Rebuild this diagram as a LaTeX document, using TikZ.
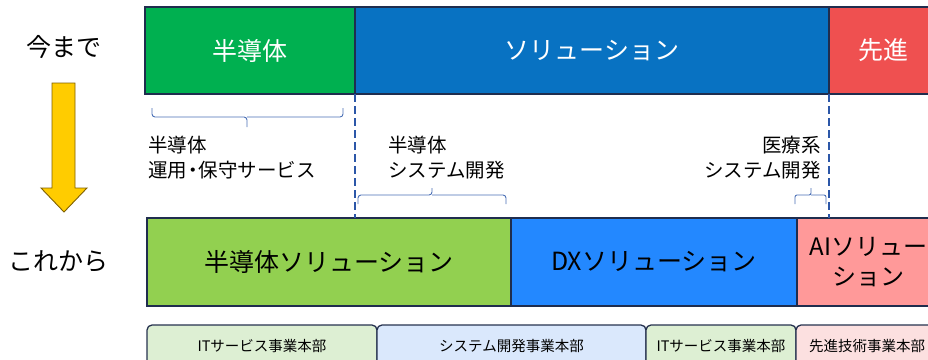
\documentclass[tikz,border=0pt]{standalone}
\usepackage{fontspec}
\newfontfamily\jp{Noto Sans CJK JP}
\definecolor{navy}{HTML}{1F2D4E}
\definecolor{topgreen}{HTML}{00B050}
\definecolor{topblue}{HTML}{0872C2}
\definecolor{topred}{HTML}{EF5050}
\definecolor{botgreen}{HTML}{92D050}
\definecolor{botblue}{HTML}{2388FF}
\definecolor{botpink}{HTML}{FF9999}
\definecolor{tabgreen}{HTML}{DDEFD3}
\definecolor{tabblue}{HTML}{DAE8FC}
\definecolor{tabpink}{HTML}{FCE0E0}
\definecolor{tabline}{HTML}{26324F}
\definecolor{dashblue}{HTML}{2C57A8}
\definecolor{bracecol}{HTML}{4A6FB5}
\definecolor{arrowfill}{HTML}{FFCC00}
\definecolor{arrowline}{HTML}{7F6000}
\begin{document}
\begin{tikzpicture}[x=1pt,y=-1pt,
  box/.style={draw=navy, line width=1.2pt, inner sep=0pt, align=center},
  topbox/.style={box, minimum height=87pt, text=white, font=\jp\fontsize{25}{30}\selectfont},
  botbox/.style={box, minimum height=88pt, text=black, font=\jp\fontsize{25}{30}\selectfont},
  tabbox/.style={draw=tabline, line width=1.3pt, rounded corners=5pt, minimum height=42pt, inner sep=0pt, font=\jp\fontsize{14.5}{17}\selectfont},
  note/.style={inner sep=0pt, font=\jp\fontsize{19.5}{25}\selectfont},
  sidelabel/.style={inner sep=0pt, font=\jp\fontsize{25}{28}\selectfont},
  dashline/.style={draw=dashblue, line width=1.4pt, dash pattern=on 8pt off 4pt},
  brc/.style={draw=bracecol, line width=0.9pt, rounded corners=3pt}]
\useasboundingbox (0,0) rectangle (928,359);
\clip (0,0) rectangle (928,359);

% side labels
\node[sidelabel] (now) at (64,47) {今まで};
\node[sidelabel] (future) at (59,261) {これから};

% arrow
\filldraw[fill=arrowfill, draw=arrowline, line width=0.9pt]
  (52,83) -- (75,83) -- (75,188) -- (87,188) -- (64,212) -- (41,188) -- (52,188) -- cycle;

% top row
\node[topbox, fill=topgreen, minimum width=210pt] (semi) at (250,50.5) {半導体};
\node[topbox, fill=topblue, minimum width=474pt] (sol) at (592,50.5) {ソリューション};
\node[topbox, fill=topred, minimum width=109pt] (adv) at (883.5,50.5) {先進};

% bottom row
\node[botbox, fill=botgreen, minimum width=364pt] (semisol) at (329,262) {半導体ソリューション};
\node[botbox, fill=botblue, minimum width=286pt] (dxsol) at (654,262) {DXソリューション};
\node[botbox, fill=botpink, minimum width=143pt, font=\jp\fontsize{24}{30}\selectfont] (aisol) at (868.5,262) {AIソリュー\\ション};

% dashed lines
\coordinate (d1a) at (355,94); \coordinate (d1b) at (355,218);
\coordinate (d2a) at (829,94); \coordinate (d2b) at (829,218);
\draw[dashline] (d1a) -- (d1b);
\draw[dashline] (d2a) -- (d2b);

% brace 1 (tip down)
\coordinate (b1l) at (152,108); \coordinate (b1r) at (343,108);
\coordinate (b1m) at (247,117); \coordinate (b1t) at (247,127);
\draw[brc] (b1l) |- (b1m) -- (b1t);
\draw[brc] (b1r) |- (b1m);

% brace 2 (tip up)
\coordinate (b2l) at (358,204); \coordinate (b2r) at (506,204);
\coordinate (b2m) at (432,195); \coordinate (b2t) at (432,188);
\draw[brc] (b2l) |- (b2m) -- (b2t);
\draw[brc] (b2r) |- (b2m);

% brace 3 (tip up)
\coordinate (b3l) at (795,204); \coordinate (b3r) at (826,204);
\coordinate (b3m) at (811,195); \coordinate (b3t) at (811,188);
\draw[brc, rounded corners=2pt] (b3l) |- (b3m) -- (b3t);
\draw[brc, rounded corners=2pt] (b3r) |- (b3m);

% notes
\node[note, anchor=west, align=left] (n1) at (148,158) {半導体\\運用\kern-0.2em・\kern-0.2em保守サービス};
\node[note, anchor=west, align=left] (n2) at (388,158) {半導体\\システム開発};
\node[note, anchor=east, align=right] (n3) at (821,158) {医療系\\システム開発};

% tabs
\node[tabbox, fill=tabgreen, minimum width=230pt] (t1) at (262,346) {ITサービス事業本部};
\node[tabbox, fill=tabblue, minimum width=269pt] (t2) at (511.5,346) {システム開発事業本部};
\node[tabbox, fill=tabgreen, minimum width=150pt] (t3) at (721,346) {ITサービス事業本部};
\node[tabbox, fill=tabpink, minimum width=142pt] (t4) at (867,346) {先進技術事業本部};
\end{tikzpicture}
\end{document}
